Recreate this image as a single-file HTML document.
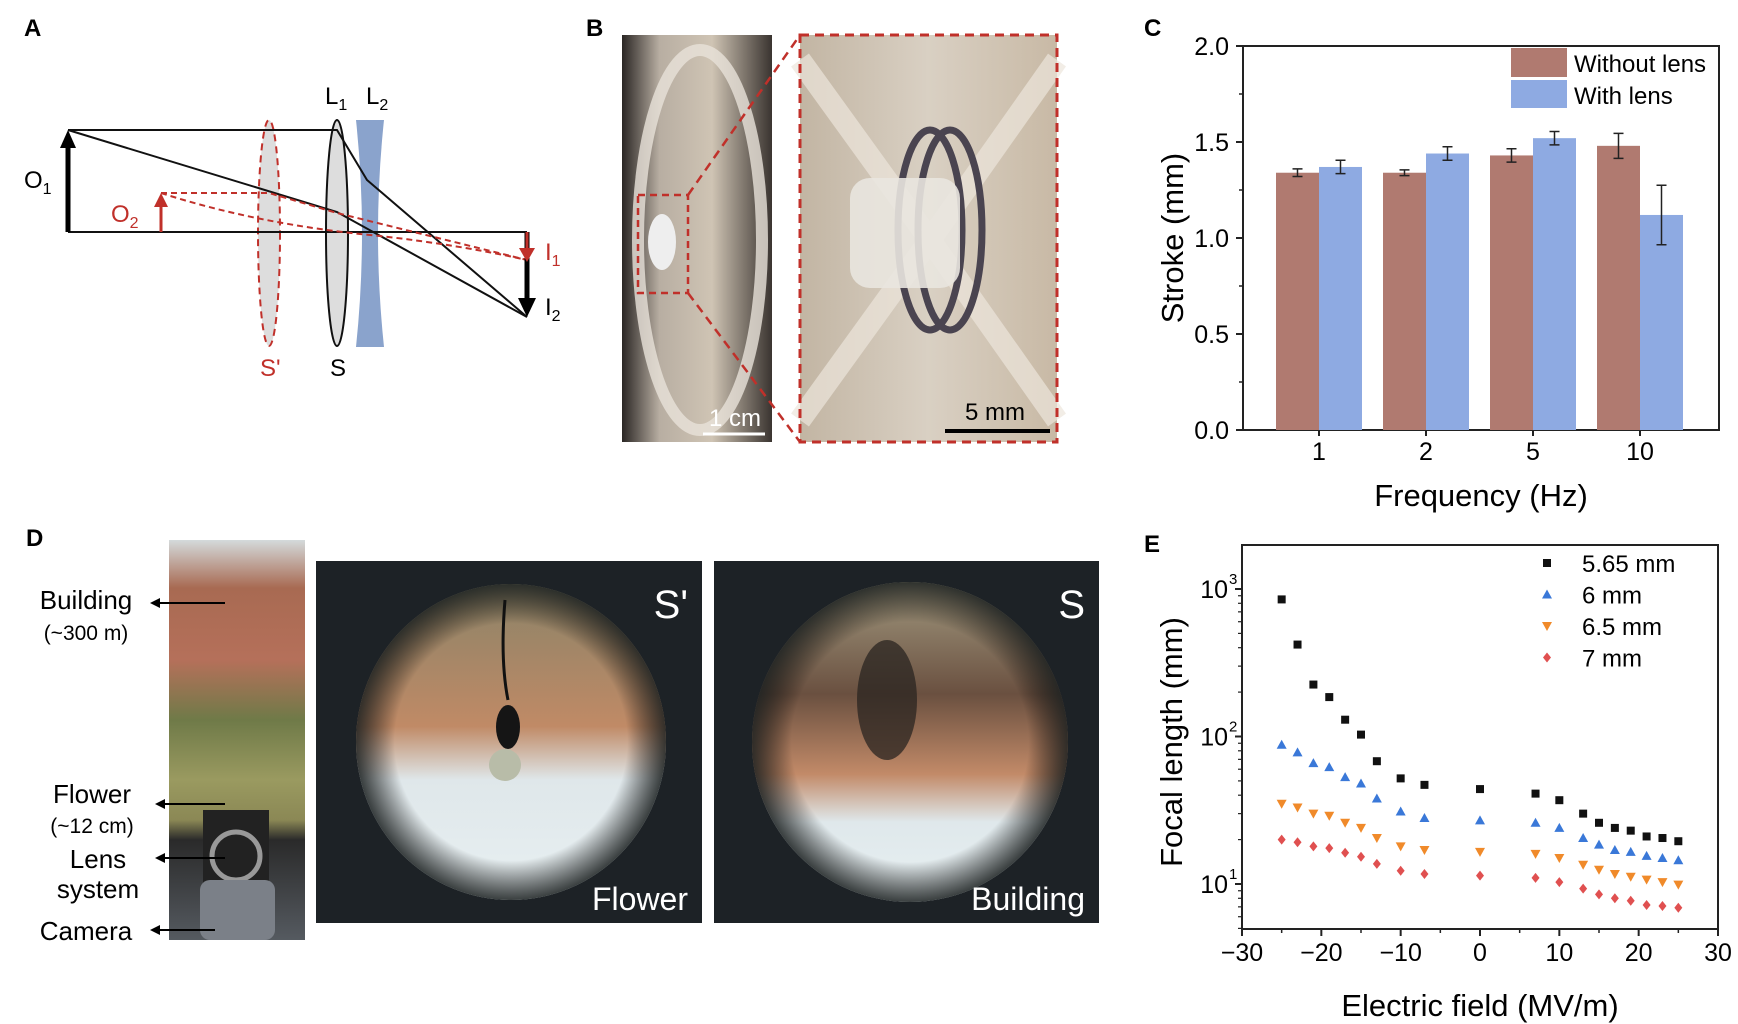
<!DOCTYPE html>
<html><head><meta charset="utf-8">
<style>
html,body{margin:0;padding:0;background:#fff;}
svg{display:block;font-family:"Liberation Sans",Arial,sans-serif;}
</style></head>
<body>
<svg id="fig" width="1738" height="1024" viewBox="0 0 1738 1024" xmlns="http://www.w3.org/2000/svg">
<defs>
  <linearGradient id="gB1" x1="0" y1="0" x2="1" y2="0">
    <stop offset="0" stop-color="#2a2624"/><stop offset="0.25" stop-color="#b8aea2"/><stop offset="0.6" stop-color="#cfc4b4"/><stop offset="1" stop-color="#3a3430"/>
  </linearGradient>
  <linearGradient id="gB2" x1="0" y1="0" x2="1" y2="0">
    <stop offset="0" stop-color="#c2b5a3"/><stop offset="0.5" stop-color="#d9d0c3"/><stop offset="1" stop-color="#c8b9a5"/>
  </linearGradient>
  <linearGradient id="gD0" x1="0" y1="0" x2="0" y2="1">
    <stop offset="0" stop-color="#d4dadb"/><stop offset="0.12" stop-color="#a86a52"/><stop offset="0.3" stop-color="#b5705a"/><stop offset="0.45" stop-color="#6f7a48"/><stop offset="0.6" stop-color="#9a9a60"/><stop offset="0.7" stop-color="#8b8855"/><stop offset="0.75" stop-color="#2a2a2a"/><stop offset="1" stop-color="#555a60"/>
  </linearGradient>
  <linearGradient id="gC1" x1="0" y1="0" x2="0" y2="1">
    <stop offset="0" stop-color="#8a8368"/><stop offset="0.45" stop-color="#c08a66"/><stop offset="0.62" stop-color="#dfe7ea"/><stop offset="1" stop-color="#e8f0f2"/>
  </linearGradient>
  <linearGradient id="gC2" x1="0" y1="0" x2="0" y2="1">
    <stop offset="0" stop-color="#a29a80"/><stop offset="0.35" stop-color="#6a5040"/><stop offset="0.6" stop-color="#c28a68"/><stop offset="0.75" stop-color="#dfe8eb"/><stop offset="1" stop-color="#e8f0f2"/>
  </linearGradient>
  <radialGradient id="vig" cx="0.5" cy="0.5" r="0.5">
    <stop offset="0.75" stop-color="#000" stop-opacity="0"/><stop offset="1" stop-color="#1b2020" stop-opacity="0.85"/>
  </radialGradient>
</defs>

<!-- Panel A -->
<g>
  <text x="24" y="36" font-size="24" font-weight="bold">A</text>
  <ellipse cx="269" cy="233" rx="11" ry="113" fill="#ddd" stroke="#c0302a" stroke-width="2" stroke-dasharray="7,5"/>
  <ellipse cx="337" cy="233" rx="11" ry="113" fill="#ddd" stroke="#111" stroke-width="2"/>
  <path d="M356,120 L384,120 Q372,233 384,347 L356,347 Q368,233 356,120 Z" fill="#8aa3cc"/>
  <polyline points="68,130 337,130 367,180 527,317" fill="none" stroke="#111" stroke-width="2"/>
  <polyline points="68,130 337,212 527,317" fill="none" stroke="#111" stroke-width="2"/>
  <line x1="68" y1="232" x2="527" y2="232" stroke="#111" stroke-width="2"/>
  <polyline points="161,193 269,193 337,213 527,260" fill="none" stroke="#c0302a" stroke-width="2" stroke-dasharray="6,4"/>
  <path d="M161,193 Q260,225 380,236 Q460,245 527,260" fill="none" stroke="#c0302a" stroke-width="2" stroke-dasharray="6,4"/>
  <line x1="68" y1="232" x2="68" y2="145" stroke="#000" stroke-width="5"/>
  <polygon points="60,148 76,148 68,130" fill="#000"/>
  <line x1="161" y1="232" x2="161" y2="205" stroke="#c0302a" stroke-width="3"/>
  <polygon points="154,207 168,207 161,193" fill="#c0302a"/>
  <line x1="527" y1="232" x2="527" y2="300" stroke="#000" stroke-width="5"/>
  <polygon points="518,298 536,298 527,317" fill="#000"/>
  <line x1="527" y1="232" x2="527" y2="250" stroke="#c0302a" stroke-width="3"/>
  <polygon points="519,248 535,248 527,262" fill="#c0302a"/>
  <g font-size="24">
    <text x="24" y="188">O<tspan font-size="16" dy="6">1</tspan></text>
    <text x="111" y="222" fill="#c0302a">O<tspan font-size="16" dy="6">2</tspan></text>
    <text x="325" y="104">L<tspan font-size="16" dy="6">1</tspan></text>
    <text x="366" y="104">L<tspan font-size="16" dy="6">2</tspan></text>
    <text x="545" y="260" fill="#c0302a">I<tspan font-size="16" dy="6">1</tspan></text>
    <text x="545" y="315">I<tspan font-size="16" dy="6">2</tspan></text>
    <text x="260" y="376" fill="#c0302a">S'</text>
    <text x="330" y="376">S</text>
  </g>
</g>

<!-- Panel B -->
<g>
  <text x="586" y="36" font-size="24" font-weight="bold">B</text>
  <rect x="622" y="35" width="150" height="407" fill="url(#gB1)"/>
  <ellipse cx="700" cy="240" rx="62" ry="190" fill="none" stroke="#e8e2da" stroke-width="12" opacity="0.8"/>
  <ellipse cx="662" cy="242" rx="14" ry="28" fill="#eee"/>
  <rect x="638" y="195" width="50" height="98" fill="none" stroke="#c0302a" stroke-width="2.5" stroke-dasharray="7,5"/>
  <line x1="688" y1="195" x2="800" y2="35" stroke="#c0302a" stroke-width="2.5" stroke-dasharray="9,6"/>
  <line x1="688" y1="293" x2="800" y2="442" stroke="#c0302a" stroke-width="2.5" stroke-dasharray="9,6"/>
  <rect x="800" y="35" width="257" height="407" fill="url(#gB2)"/>
  <path d="M800,60 L930,240 L800,420 M1057,60 L930,240 L1057,420" stroke="#ece6dc" stroke-width="22" fill="none" opacity="0.7"/>
  <ellipse cx="930" cy="230" rx="32" ry="100" fill="none" stroke="#4a4450" stroke-width="7"/>
  <ellipse cx="950" cy="230" rx="32" ry="100" fill="none" stroke="#4a4450" stroke-width="7"/>
  <rect x="850" y="178" width="110" height="110" rx="20" fill="#e9e5df" opacity="0.9"/>
  <rect x="800" y="35" width="257" height="407" fill="none" stroke="#c0302a" stroke-width="3" stroke-dasharray="9,6"/>
  <line x1="703" y1="434" x2="765" y2="434" stroke="#fff" stroke-width="3"/>
  <text x="735" y="426" font-size="24" fill="#fff" text-anchor="middle">1 cm</text>
  <line x1="945" y1="431" x2="1050" y2="431" stroke="#000" stroke-width="4"/>
  <text x="995" y="420" font-size="24" text-anchor="middle">5 mm</text>
</g>

<!-- Panel D -->
<g>
  <text x="26" y="546" font-size="24" font-weight="bold">D</text>
  <rect x="169" y="540" width="136" height="400" fill="url(#gD0)"/>
  <rect x="203" y="810" width="66" height="90" fill="#222"/>
  <circle cx="236" cy="856" r="24" fill="none" stroke="#999" stroke-width="5"/>
  <rect x="200" y="880" width="75" height="60" rx="10" fill="#7b8088"/>
  <g font-size="26" text-anchor="middle">
    <text x="86" y="609">Building</text>
    <text x="86" y="640" font-size="21">(~300 m)</text>
    <text x="92" y="803">Flower</text>
    <text x="92" y="833" font-size="21">(~12 cm)</text>
    <text x="98" y="868">Lens</text>
    <text x="98" y="898">system</text>
    <text x="86" y="940">Camera</text>
  </g>
  <g stroke="#000" stroke-width="2">
    <line x1="155" y1="603" x2="225" y2="603"/><line x1="160" y1="804" x2="225" y2="804"/>
    <line x1="160" y1="858" x2="225" y2="858"/><line x1="155" y1="930" x2="215" y2="930"/>
  </g>
  <g fill="#000">
    <polygon points="150,603 160,598 160,608"/><polygon points="155,804 165,799 165,809"/>
    <polygon points="155,858 165,853 165,863"/><polygon points="150,930 160,925 160,935"/>
  </g>
  <rect x="316" y="561" width="386" height="362" fill="#1d2226"/>
  <ellipse cx="511" cy="742" rx="155" ry="158" fill="url(#gC1)"/>
  <ellipse cx="511" cy="742" rx="155" ry="158" fill="url(#vig)"/>
  <path d="M505,600 Q500,660 508,700" stroke="#111" stroke-width="3" fill="none"/>
  <ellipse cx="508" cy="727" rx="12" ry="22" fill="#151515"/>
  <circle cx="505" cy="765" r="16" fill="#b8bca8"/>
  <text x="688" y="618" font-size="40" fill="#fff" text-anchor="end">S'</text>
  <text x="688" y="910" font-size="32" fill="#fff" text-anchor="end">Flower</text>
  <rect x="714" y="561" width="385" height="362" fill="#1d2226"/>
  <ellipse cx="910" cy="742" rx="158" ry="160" fill="url(#gC2)"/>
  <ellipse cx="910" cy="742" rx="158" ry="160" fill="url(#vig)"/>
  <ellipse cx="887" cy="700" rx="30" ry="60" fill="#2a2420" opacity="0.75"/>
  <text x="1085" y="618" font-size="40" fill="#fff" text-anchor="end">S</text>
  <text x="1085" y="910" font-size="32" fill="#fff" text-anchor="end">Building</text>
</g>

<!-- Panel C -->
<g id="chartC">
  <text x="1144" y="36" font-size="24" font-weight="bold">C</text>
</g>
<!-- Panel E -->
<g id="chartE">
  <text x="1144" y="552" font-size="24" font-weight="bold">E</text>
</g>
</svg>
<script>
const freqCats = ["1","2","5","10"];
const withoutLens = [1.34, 1.34, 1.43, 1.48];
const withoutLensErr = [0.02, 0.015, 0.035, 0.065];
const withLens = [1.37, 1.44, 1.52, 1.12];
const withLensErr = [0.035, 0.035, 0.035, 0.155];
const strokeTicks = [0, 0.5, 1.0, 1.5, 2.0];

const fieldX = [-25,-23,-21,-19,-17,-15,-13,-10,-7,0,7,10,13,15,17,19,21,23,25];
const f565 = [850,420,225,185,130,103,68,52,47,44,41,37,30,26,24,23,21,20.5,19.5];
const f6 = [88,78,66,62,53,48,38,31,28,27,26,24,20.5,18.5,17,16.5,15.5,15,14.5];
const f65 = [35,33,30,29,26,24,20.5,18,17,16.5,16,15,13.5,12.5,11.7,11.2,10.7,10.3,9.9];
const f7 = [20,19.2,18,17.5,16.3,15.3,13.7,12.3,11.7,11.4,11,10.3,9.3,8.5,8,7.7,7.2,7.1,6.9];
const seriesNames = ["5.65 mm","6 mm","6.5 mm","7 mm"];
const fieldTicks = [-30,-20,-10,0,10,20,30];
const logTicks = [1,2,3];

const NS="http://www.w3.org/2000/svg";
function mk(parent,tag,attrs,text){const e=document.createElementNS(NS,tag);for(const k in attrs)e.setAttribute(k,attrs[k]);if(text!==undefined)e.textContent=text;parent.appendChild(e);return e;}

// ---- Chart C ----
(function(){
  const g=document.getElementById('chartC');
  const L=1243,R=1719,T=46,B=430;
  const y=v=>B-(v/2.0)*(B-T);
  const step=107, x0=L+76;
  const cx=i=>x0+i*step;
  const bw=43;
  mk(g,'rect',{x:L,y:T,width:R-L,height:B-T,fill:'none',stroke:'#222','stroke-width':2});
  const lg=mk(g,'g',{});
  
  
  const s1=mk(lg,'rect',{x:1511,y:48,width:56,height:29,fill:'#b07a70'});
  
  
  const t1=mk(lg,'text',{x:1574,y:72,'font-size':24},'Without lens');
  
  
  const s2=mk(lg,'rect',{x:1511,y:80,width:56,height:28,fill:'#8eaae2'});
  
  
  const t2=mk(lg,'text',{x:1574,y:104,'font-size':24},'With lens');
  
  
  freqCats.forEach((c,i)=>{
    const c0=cx(i);
    [[withoutLens,withoutLensErr,'#b07a70',c0-bw,'without-lens'],[withLens,withLensErr,'#8eaae2',c0,'with-lens']].forEach(([vals,errs,col,bx,nm])=>{
      const b=mk(g,'rect',{x:bx,y:y(vals[i]),width:bw,height:B-y(vals[i]),fill:col});
      
      
      const ex=bx+bw/2, y1=y(vals[i]+errs[i]), y2=y(vals[i]-errs[i]);
      const eb=mk(g,'path',{d:`M${ex},${y1}V${y2}M${ex-5},${y1}H${ex+5}M${ex-5},${y2}H${ex+5}`,stroke:'#222','stroke-width':1.5,fill:'none'});
      
      
    });
    const tl=mk(g,'text',{x:c0,y:460,'font-size':25,'text-anchor':'middle'},c);
    
    
    mk(g,'line',{x1:c0,y1:B,x2:c0,y2:B+6,stroke:'#222','stroke-width':2});
  });
  strokeTicks.forEach(v=>{
    mk(g,'line',{x1:L,y1:y(v),x2:L-7,y2:y(v),stroke:'#222','stroke-width':2});
    const t=mk(g,'text',{x:L-14,y:y(v)+9,'font-size':25,'text-anchor':'end'},v.toFixed(1));
    
    
    if(v<2){mk(g,'line',{x1:L,y1:y(v+0.25),x2:L-4,y2:y(v+0.25),stroke:'#222','stroke-width':1.5});}
  });
  const xt=mk(g,'text',{x:(L+R)/2,y:506,'font-size':31,'text-anchor':'middle'},'Frequency (Hz)');
  
  
  const yt=mk(g,'text',{x:0,y:0,'font-size':31,'text-anchor':'middle',transform:`translate(1183,${(T+B)/2}) rotate(-90)`},'Stroke (mm)');
  
  
})();

// ---- Chart E ----
(function(){
  const g=document.getElementById('chartE');
  const L=1242,R=1718,T=545,B=929;
  const dec=147.5, y10=884;
  const y=v=>y10-(Math.log10(v)-1)*dec;
  const x=v=>L+(v+30)/60*(R-L);
  mk(g,'rect',{x:L,y:T,width:R-L,height:B-T,fill:'none',stroke:'#222','stroke-width':2});
  fieldTicks.forEach(v=>{
    mk(g,'line',{x1:x(v),y1:B,x2:x(v),y2:B+7,stroke:'#222','stroke-width':2});
    if(v<30) mk(g,'line',{x1:x(v+5),y1:B,x2:x(v+5),y2:B+4,stroke:'#222','stroke-width':1.5});
    const t=mk(g,'text',{x:x(v),y:961,'font-size':25,'text-anchor':'middle'},v<0?'\u2212'+(-v):String(v));
    
    
  });
  logTicks.forEach(p=>{
    const yy=y(Math.pow(10,p));
    mk(g,'line',{x1:L,y1:yy,x2:L-7,y2:yy,stroke:'#222','stroke-width':2});
    const t=mk(g,'text',{x:L-14,y:yy+9,'font-size':25,'text-anchor':'end'},'10');
    
    
    mk(g,'text',{x:L-13,y:yy-5,'font-size':15},String(p));
  });
  for(let p=0;p<=3;p++){for(let m=2;m<=9;m++){const v=m*Math.pow(10,p);const yy=y(v);if(yy>T&&yy<B)mk(g,'line',{x1:L,y1:yy,x2:L-4,y2:yy,stroke:'#222','stroke-width':1.2});}}
  const cols=['#111','#3a78d8','#f08a2a','#e05050'];
  const data=[f565,f6,f65,f7];
  function marker(k,px,py,s){
    if(k===0) return mk(g,'rect',{x:px-s,y:py-s,width:2*s,height:2*s,fill:cols[0]});
    if(k===1) return mk(g,'polygon',{points:`${px-s-1},${py+s} ${px+s+1},${py+s} ${px},${py-s-1}`,fill:cols[1]});
    if(k===2) return mk(g,'polygon',{points:`${px-s-1},${py-s} ${px+s+1},${py-s} ${px},${py+s+1}`,fill:cols[2]});
    return mk(g,'polygon',{points:`${px},${py-s-1} ${px+s},${py} ${px},${py+s+1} ${px-s},${py}`,fill:cols[3]});
  }
  data.forEach((arr,k)=>{
    arr.forEach((v,i)=>{
      const m=marker(k,x(fieldX[i]),y(v),4);
      
      
    });
    const ly=563+k*31.5;
    const lm=marker(k,1547,ly,4);
    
    
    const lt=mk(g,'text',{x:1582,y:ly+9,'font-size':24},seriesNames[k]);
    
    
  });
  const xt=mk(g,'text',{x:(L+R)/2,y:1016,'font-size':31,'text-anchor':'middle'},'Electric field (MV/m)');
  
  
  const yt=mk(g,'text',{x:0,y:0,'font-size':31,'text-anchor':'middle',transform:`translate(1182,${(T+B)/2+5}) rotate(-90)`},'Focal length (mm)');
  
  
})();
</script>
</body></html>
